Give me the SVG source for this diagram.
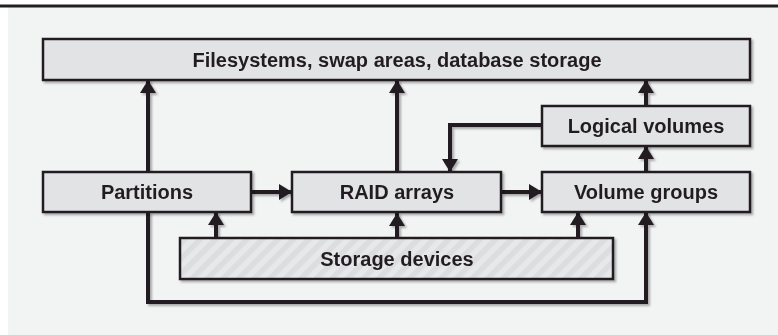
<svg xmlns="http://www.w3.org/2000/svg" width="778" height="335" viewBox="0 0 778 335">
<style>
.box{fill:#e2e3e4;stroke:#231f20;stroke-width:2.5}
.lbl{font-family:"Liberation Sans",Arial,sans-serif;font-weight:bold;font-size:20px;fill:#231f20;text-anchor:middle}
.con{fill:none;stroke:#231f20;stroke-width:4;marker-end:url(#ah)}
</style>
<defs>
<marker id="ah" markerUnits="userSpaceOnUse" markerWidth="17" markerHeight="17" refX="13" refY="8" orient="auto">
<path d="M0,0 L13,8 L0,16 Z" fill="#231f20"/>
</marker>
<filter id="sh" x="-10%" y="-10%" width="120%" height="130%">
<feDropShadow dx="2" dy="2" stdDeviation="1.2" flood-color="#000" flood-opacity="0.3"/>
</filter>
<pattern id="stripes" width="11" height="11" patternUnits="userSpaceOnUse" patternTransform="rotate(45)">
<rect width="11" height="11" fill="#e7e8e9"/>
<rect width="5.5" height="11" fill="#dcddde"/>
</pattern>
</defs>
<rect x="0" y="0" width="778" height="335" fill="#ffffff"/>
<rect x="8" y="7" width="770" height="328" fill="#f2f3f3"/>
<rect x="0" y="4.5" width="778" height="3" fill="#231f20"/>
<g id="connectors" filter="url(#sh)">
<path class="con" d="M148,172 V80"/>
<path class="con" d="M397,172 V80"/>
<path class="con" d="M646,106 V80"/>
<path class="con" d="M646,172 V146"/>
<path class="con" d="M251,192 H292"/>
<path class="con" d="M501,192 H542"/>
<path class="con" d="M542,125 H450 V172"/>
<path class="con" d="M216,238 V212"/>
<path class="con" d="M397,238 V213"/>
<path class="con" d="M578,238 V212"/>
<path class="con" d="M148,212 V302 H646 V212"/>
</g>
<g id="filesystems" filter="url(#sh)">
<rect class="box" x="43" y="39" width="707" height="41"/>
<text class="lbl" x="397" y="66.5">Filesystems, swap areas, database storage</text>
</g>
<g id="logical-volumes" filter="url(#sh)">
<rect class="box" x="542" y="106" width="208" height="40"/>
<text class="lbl" x="646" y="133">Logical volumes</text>
</g>
<g id="partitions" filter="url(#sh)">
<rect class="box" x="43" y="172" width="208" height="40"/>
<text class="lbl" x="147" y="199">Partitions</text>
</g>
<g id="raid-arrays" filter="url(#sh)">
<rect class="box" x="292" y="172" width="209" height="40"/>
<text class="lbl" x="397" y="199">RAID arrays</text>
</g>
<g id="volume-groups" filter="url(#sh)">
<rect class="box" x="542" y="172" width="208" height="40"/>
<text class="lbl" x="646" y="199">Volume groups</text>
</g>
<g id="storage-devices" filter="url(#sh)">
<rect class="box" x="180" y="238" width="433" height="41" style="fill:url(#stripes)"/>
<text class="lbl" x="397" y="265.5">Storage devices</text>
</g>
</svg>
